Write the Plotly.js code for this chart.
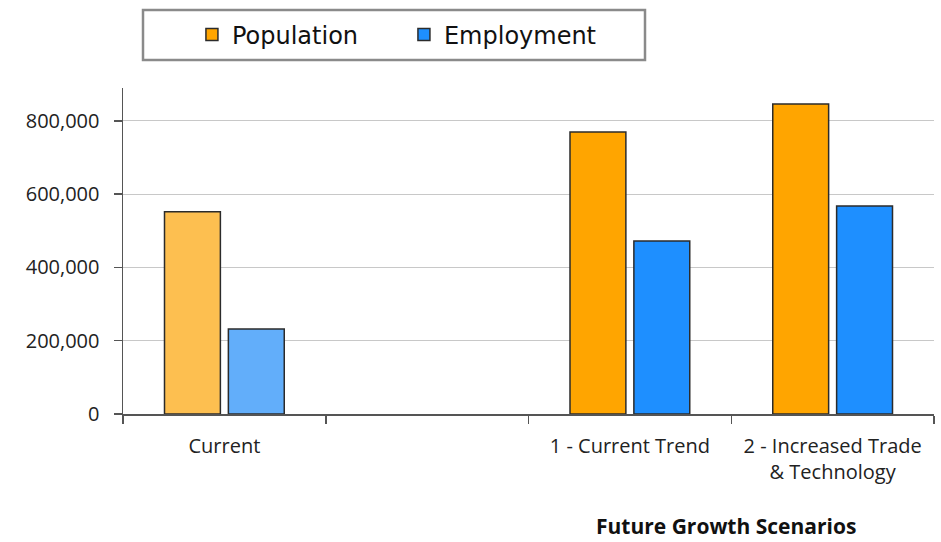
<!DOCTYPE html>
<html>
<head>
<meta charset="utf-8">
<script src="https://cdn.plot.ly/plotly-3.0.1.min.js"></script>
<style>html,body{margin:0;padding:0;background:#fff;}#chart{width:941px;height:542px;}</style>
</head>
<body>
<div id="chart"></div>
<script>
const categories = ["Current", " ", "1 - Current Trend", "2 - Increased Trade<br>& Technology"];
const population = [552000, null, 770000, 846000];
const employment = [232000, null, 472000, 568000];
const seriesNames = ["Population", "Employment"];
const yTickVals = [0, 200000, 400000, 600000, 800000];
const yTickText = ["0", "200,000", "400,000", "600,000", "800,000"];
const xAxisTitle = "Future Growth Scenarios";

const fullColors = ["#FFA500", "#1E8FFF"];
const lightColors = ["#FDBF50", "#62AEFA"];
const currentIdx = [0];
const futureIdx = [2, 3];

function pick(arr, idx) { return idx.map(i => arr[i]); }

const traces = [];
[population, employment].forEach((vals, s) => {
  const grp = "g" + s;
  traces.push({
    type: "bar", name: seriesNames[s], x: pick(categories, futureIdx), y: pick(vals, futureIdx),
    offsetgroup: grp, legendgroup: grp, showlegend: true,
    marker: {color: fullColors[s], line: {color: "#2b2b2b", width: 1.5}},
    hoverinfo: "x+y"
  });
  traces.push({
    type: "bar", name: seriesNames[s], x: pick(categories, currentIdx), y: pick(vals, currentIdx),
    offsetgroup: grp, legendgroup: grp, showlegend: false,
    marker: {color: lightColors[s], line: {color: "#2b2b2b", width: 1.5}},
    hoverinfo: "x+y"
  });
});

const layout = {
  width: 941, height: 542,
  margin: {l: 123, r: 7, t: 88, b: 128},
  paper_bgcolor: "#ffffff", plot_bgcolor: "#ffffff",
  barmode: "group", bargap: 0.37, bargroupgap: 0.125,
  font: {family: "Open Sans, sans-serif", size: 18, color: "#222"},
  showlegend: true,
  legend: {
    orientation: "h", x: 0.085, xanchor: "left", y: 1.163, yanchor: "middle",
    bgcolor: "rgba(0,0,0,0)", borderwidth: 0,
    font: {family: "DejaVu Sans, sans-serif", size: 24, color: "#111"},
    entrywidth: 167, traceorder: "normal"
  },
  xaxis: {
    type: "category", categoryorder: "array", categoryarray: categories,
    range: [-0.5, 3.5],
    showline: true, linecolor: "#555", linewidth: 1.5,
    ticks: "outside", tickson: "boundaries", ticklen: 8, tickcolor: "#555", tickwidth: 1.5,
    ticklabelstandoff: 13,
    showgrid: false, zeroline: false,
    tickfont: {family: "Open Sans, sans-serif", size: 20, color: "#222"}
  },
  yaxis: {
    range: [0, 890000], tickvals: yTickVals, ticktext: yTickText,
    showline: true, linecolor: "#555", linewidth: 1.5,
    ticks: "outside", ticklen: 8, tickcolor: "#555", tickwidth: 1.5,
    ticklabelstandoff: 10,
    showgrid: true, gridcolor: "#c8c8c8", gridwidth: 1, zeroline: false,
    tickfont: {family: "Open Sans, sans-serif", size: 20, color: "#222"}
  },
  shapes: [{
    type: "rect", xref: "paper", yref: "paper",
    x0: (143 - 123) / 811, x1: (645 - 123) / 811,
    y0: (414 - 60) / 326, y1: (414 - 10) / 326,
    line: {color: "#8a8a8a", width: 2.5}, fillcolor: "rgba(0,0,0,0)", layer: "above"
  }],
  annotations: [{
    text: "<b>" + xAxisTitle + "</b>", xref: "paper", yref: "paper",
    x: (726 - 123) / 811, y: -(526 - 414) / 326, xanchor: "center", yanchor: "middle",
    showarrow: false, font: {family: "Open Sans, sans-serif", size: 21, color: "#111"}
  }]
};

Plotly.newPlot("chart", traces, layout, {displayModeBar: false, staticPlot: true});
</script>
</body>
</html>
